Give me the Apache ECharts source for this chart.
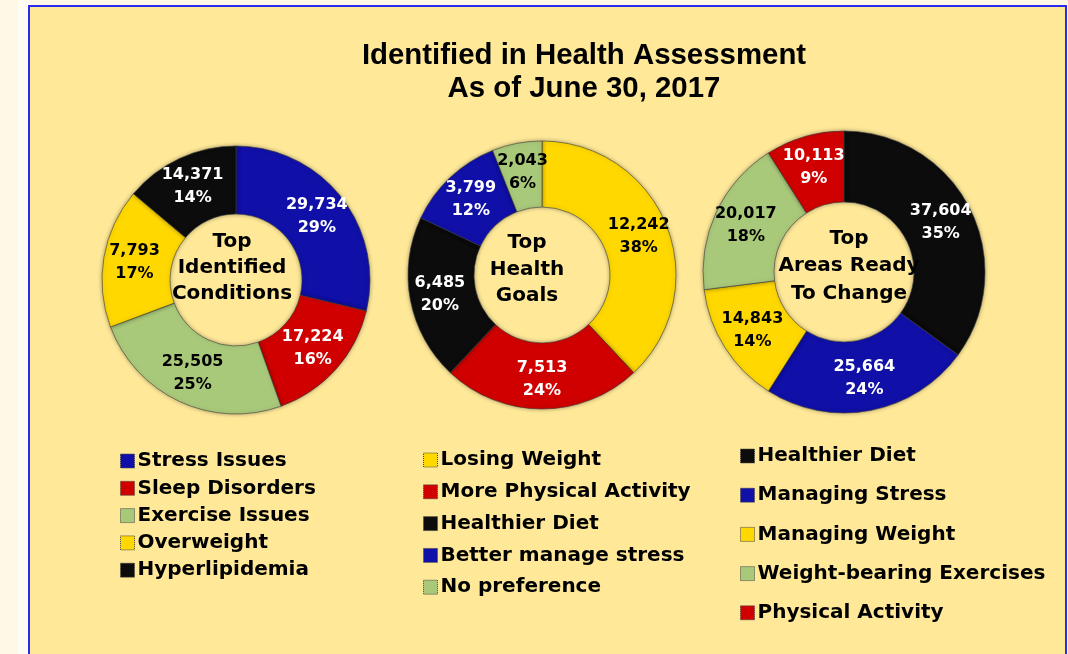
<!DOCTYPE html>
<html>
<head>
<meta charset="utf-8">
<script src="https://cdn.jsdelivr.net/npm/echarts@6/dist/echarts.min.js"></script>
<style>
  html, body { margin: 0; padding: 0; background: #fff8e6; }
  #main { width: 1068px; height: 654px; }
</style>
</head>
<body>
<div id="main"></div>
<script>
var myChart = echarts.init(document.getElementById('main'));

// chart 1: top identified conditions
var conditionNames = ['Stress Issues', 'Sleep Disorders', 'Exercise Issues', 'Overweight', 'Hyperlipidemia'];
var conditionCounts = [29734, 17224, 25505, 7793, 14371];
var conditionPct = [29, 16, 25, 17, 14];

// chart 2: top health goals
var goalNames = ['Losing Weight', 'More Physical Activity', 'Healthier Diet', 'Better manage stress', 'No preference'];
var goalCounts = [12242, 7513, 6485, 3799, 2043];
var goalPct = [38, 24, 20, 12, 6];

// chart 3: top areas ready to change
var changeNames = ['Healthier Diet', 'Managing Stress', 'Managing Weight', 'Weight-bearing Exercises', 'Physical Activity'];
var changeCounts = [37604, 25664, 14843, 20017, 10113];
var changePct = [35, 24, 14, 18, 9];

var BLUE = '#1010a8', RED = '#d00000', GREEN = '#a9c97a', YELLOW = '#ffd800', BLACK = '#0c0c0c';
var conditionColors = [BLUE, RED, GREEN, YELLOW, BLACK];
var goalColors = [YELLOW, RED, BLACK, BLUE, GREEN];
var changeColors = [BLACK, BLUE, YELLOW, GREEN, RED];

var BOLD_FONT = 'DejaVu Sans';

function fmt(n) {
    return n.toString().replace(/\B(?=(\d{3})+(?!\d))/g, ',');
}

function buildData(names, pct, counts, colors) {
    return names.map(function (name, i) {
        var dark = colors[i] === GREEN || colors[i] === YELLOW;
        return {
            name: name,
            value: pct[i],
            count: counts[i],
            itemStyle: { color: colors[i] },
            label: { color: dark ? '#000' : '#fff' }
        };
    });
}

function donut(center, radius, data) {
    return {
        type: 'pie',
        center: center,
        radius: radius,
        startAngle: 90,
        clockwise: true,
        avoidLabelOverlap: false,
        legendHoverLink: false,
        itemStyle: {
            borderColor: 'rgba(60,60,60,0.6)',
            borderWidth: 1,
            shadowColor: 'rgba(0,0,0,0.35)',
            shadowBlur: 4
        },
        label: {
            position: 'inside',
            fontFamily: BOLD_FONT,
            fontWeight: 'bold',
            fontSize: 16,
            lineHeight: 23,
            formatter: function (p) {
                return fmt(p.data.count) + '\n' + p.value + '%';
            }
        },
        labelLine: { show: false },
        data: data
    };
}

function legend(names, left, top, gap) {
    return {
        data: names,
        orient: 'vertical',
        left: left,
        top: top,
        itemGap: gap,
        itemWidth: 14,
        itemHeight: 14,
        icon: 'rect',
        selectedMode: false,
        itemStyle: { borderColor: '#444', borderWidth: 1, borderType: 'dotted' },
        textStyle: {
            fontFamily: BOLD_FONT,
            fontWeight: 'bold',
            fontSize: 20,
            lineHeight: 20,
            color: '#000',
            padding: [0, 0, 0, -2]
        }
    };
}

function centerText(text, x, y, lh) {
    return {
        text: text,
        left: x,
        top: y,
        textAlign: 'center',
        textStyle: {
            fontFamily: BOLD_FONT,
            fontWeight: 'bold',
            fontSize: 20,
            lineHeight: lh,
            color: '#000'
        }
    };
}

var option = {
    backgroundColor: '#fff8e6',
    graphic: [
        {
            type: 'rect',
            shape: { x: 18, y: 0, width: 12, height: 654 },
            style: { fill: '#fffcf2' },
            silent: true,
            z: -10
        },
        {
            type: 'rect',
            shape: { x: 29, y: 6, width: 1037, height: 660 },
            style: { fill: '#ffe999', stroke: '#2a2af0', lineWidth: 2 },
            silent: true,
            z: -10
        }
    ],
    title: [
        {
            text: 'Identified in Health Assessment\nAs of June 30, 2017',
            left: 579,
            top: 35,
            textAlign: 'center',
            textStyle: {
                fontFamily: 'Liberation Sans',
                fontWeight: 'bold',
                fontSize: 29.4,
                lineHeight: 32.5,
                color: '#000'
            }
        },
        centerText('Top\nIdentified\nConditions', 227, 224, 26),
        centerText('Top\nHealth\nGoals', 522, 225, 26.5),
        centerText('Top\nAreas Ready\nTo Change', 844, 220, 27.5)
    ],
    legend: [
        legend(conditionNames, 115, 446, 7.3),
        legend(goalNames, 418, 445, 11.8),
        legend(changeNames, 735, 441, 19.2)
    ],
    series: [
        donut([236, 280], [66, 134], buildData(conditionNames, conditionPct, conditionCounts, conditionColors)),
        donut([542, 275], [68, 134], buildData(goalNames, goalPct, goalCounts, goalColors)),
        donut([844, 272], [70, 141], buildData(changeNames, changePct, changeCounts, changeColors))
    ]
};

myChart.setOption(option);
</script>
</body>
</html>
